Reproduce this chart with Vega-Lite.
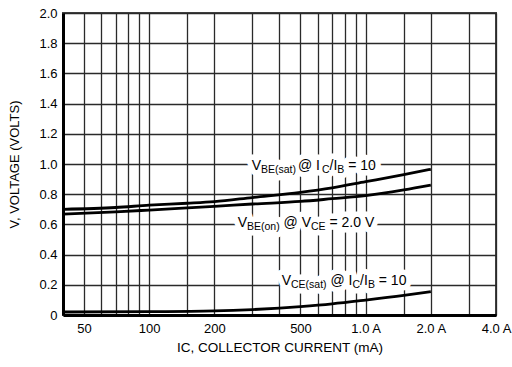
{
  "$schema": "https://vega.github.io/schema/vega-lite/v6.json",
  "width": 433,
  "height": 302,
  "autosize": "none",
  "padding": {"left": 63, "top": 13, "right": 16, "bottom": 52},
  "background": "white",
  "config": {
    "font": "Liberation Sans",
    "view": {"stroke": "#444", "strokeWidth": 2},
    "axis": {"labelFont": "Liberation Sans", "titleFont": "Liberation Sans"}
  },
  "datasets": {
    "curves": [
      {"series": "VBE(sat)", "ic": 40, "v": 0.700},
      {"series": "VBE(sat)", "ic": 70, "v": 0.712},
      {"series": "VBE(sat)", "ic": 100, "v": 0.727},
      {"series": "VBE(sat)", "ic": 150, "v": 0.740},
      {"series": "VBE(sat)", "ic": 200, "v": 0.751},
      {"series": "VBE(sat)", "ic": 300, "v": 0.778},
      {"series": "VBE(sat)", "ic": 500, "v": 0.812},
      {"series": "VBE(sat)", "ic": 700, "v": 0.842},
      {"series": "VBE(sat)", "ic": 1000, "v": 0.883},
      {"series": "VBE(sat)", "ic": 1500, "v": 0.930},
      {"series": "VBE(sat)", "ic": 2000, "v": 0.965},
      {"series": "VBE(on)", "ic": 40, "v": 0.668},
      {"series": "VBE(on)", "ic": 70, "v": 0.683},
      {"series": "VBE(on)", "ic": 100, "v": 0.695},
      {"series": "VBE(on)", "ic": 150, "v": 0.709},
      {"series": "VBE(on)", "ic": 200, "v": 0.719},
      {"series": "VBE(on)", "ic": 300, "v": 0.735},
      {"series": "VBE(on)", "ic": 500, "v": 0.752},
      {"series": "VBE(on)", "ic": 700, "v": 0.770},
      {"series": "VBE(on)", "ic": 1000, "v": 0.790},
      {"series": "VBE(on)", "ic": 1500, "v": 0.828},
      {"series": "VBE(on)", "ic": 2000, "v": 0.860},
      {"series": "VCE(sat)", "ic": 40, "v": 0.020},
      {"series": "VCE(sat)", "ic": 100, "v": 0.022},
      {"series": "VCE(sat)", "ic": 200, "v": 0.027},
      {"series": "VCE(sat)", "ic": 300, "v": 0.036},
      {"series": "VCE(sat)", "ic": 400, "v": 0.046},
      {"series": "VCE(sat)", "ic": 500, "v": 0.056},
      {"series": "VCE(sat)", "ic": 700, "v": 0.074},
      {"series": "VCE(sat)", "ic": 1000, "v": 0.099},
      {"series": "VCE(sat)", "ic": 1500, "v": 0.130},
      {"series": "VCE(sat)", "ic": 2000, "v": 0.155}
    ],
    "labels": [
      {"ic": 297.6, "v": 0.96, "t": "V", "p": "m"},
      {"ic": 328.6, "v": 0.96, "t": "BE(sat)", "p": "s"},
      {"ic": 487.0, "v": 0.96, "t": "@ I", "p": "m"},
      {"ic": 627.9, "v": 0.96, "t": "C", "p": "s"},
      {"ic": 680.7, "v": 0.96, "t": "/I", "p": "m"},
      {"ic": 739.7, "v": 0.96, "t": "B", "p": "s"},
      {"ic": 830.7, "v": 0.96, "t": "= 10", "p": "m"},
      {"ic": 256.5, "v": 0.585, "t": "V", "p": "m"},
      {"ic": 283.1, "v": 0.585, "t": "BE(on)", "p": "s"},
      {"ic": 417.8, "v": 0.585, "t": "@ V", "p": "m"},
      {"ic": 559.1, "v": 0.585, "t": "CE", "p": "s"},
      {"ic": 680.7, "v": 0.585, "t": "= 2.0 V", "p": "m"},
      {"ic": 409.5, "v": 0.199, "t": "V", "p": "m"},
      {"ic": 452.0, "v": 0.199, "t": "CE(sat)", "p": "s"},
      {"ic": 688.0, "v": 0.199, "t": "@ I", "p": "m"},
      {"ic": 869.5, "v": 0.199, "t": "C", "p": "s"},
      {"ic": 942.8, "v": 0.199, "t": "/I", "p": "m"},
      {"ic": 1024.3, "v": 0.199, "t": "B", "p": "s"},
      {"ic": 1150.0, "v": 0.199, "t": "= 10", "p": "m"}
    ]
  },
  "encoding": {
    "x": {
      "field": "ic",
      "type": "quantitative",
      "scale": {"type": "log", "domain": [40, 4000], "nice": false},
      "axis": {
        "values": [40, 50, 60, 70, 80, 90, 100, 150, 200, 300, 400, 500, 600, 700, 800, 900, 1000, 1500, 2000, 3000, 4000],
        "labelExpr": "datum.value == 50 ? '50' : datum.value == 100 ? '100' : datum.value == 200 ? '200' : datum.value == 500 ? '500' : datum.value == 1000 ? '1.0 A' : datum.value == 2000 ? '2.0 A' : datum.value == 4000 ? '4.0 A' : ''",
        "labelOverlap": false,
        "labelFlush": false,
        "labelBound": false,
        "ticks": false,
        "grid": true,
        "gridColor": "#2a2a2a",
        "gridWidth": 1.3,
        "domainColor": "#000",
        "domainWidth": 3,
        "labelFontSize": 13,
        "labelColor": "#000",
        "labelPadding": 7,
        "title": "IC, COLLECTOR CURRENT (mA)",
        "titleFontSize": 13.5,
        "titleFontWeight": "normal",
        "titleColor": "#000",
        "titlePadding": 5
      }
    },
    "y": {
      "field": "v",
      "type": "quantitative",
      "scale": {"domain": [0, 2], "nice": false},
      "axis": {
        "values": [0, 0.2, 0.4, 0.6, 0.8, 1.0, 1.2, 1.4, 1.6, 1.8, 2.0],
        "labelExpr": "datum.value == 0 ? '0' : format(datum.value, '.1f')",
        "ticks": false,
        "grid": true,
        "gridColor": "#2a2a2a",
        "gridWidth": 1.3,
        "domainColor": "#000",
        "domainWidth": 3,
        "labelFontSize": 13,
        "labelColor": "#000",
        "labelPadding": 6,
        "title": "V, VOLTAGE (VOLTS)",
        "titleFontSize": 13,
        "titleFontWeight": "normal",
        "titleColor": "#000",
        "titlePadding": 17
      }
    }
  },
  "layer": [
    {
      "data": {"name": "labels"},
      "transform": [{"filter": "datum.p == 'm'"}],
      "mark": {"type": "text", "align": "left", "baseline": "alphabetic", "fontSize": 14, "stroke": "white", "strokeWidth": 11, "fill": "white", "strokeJoin": "round"},
      "encoding": {"text": {"field": "t"}}
    },
    {
      "data": {"name": "labels"},
      "transform": [{"filter": "datum.p == 's'"}],
      "mark": {"type": "text", "align": "left", "baseline": "alphabetic", "fontSize": 10.5, "dy": 3, "stroke": "white", "strokeWidth": 11, "fill": "white", "strokeJoin": "round"},
      "encoding": {"text": {"field": "t"}}
    },
    {
      "data": {"name": "curves"},
      "mark": {"type": "line", "color": "#000", "strokeWidth": 2.8, "interpolate": "monotone"},
      "encoding": {"detail": {"field": "series"}}
    },
    {
      "data": {"name": "labels"},
      "transform": [{"filter": "datum.p == 'm'"}],
      "mark": {"type": "text", "align": "left", "baseline": "alphabetic", "fontSize": 14, "color": "#000"},
      "encoding": {"text": {"field": "t"}}
    },
    {
      "data": {"name": "labels"},
      "transform": [{"filter": "datum.p == 's'"}],
      "mark": {"type": "text", "align": "left", "baseline": "alphabetic", "fontSize": 10.5, "dy": 3, "color": "#000"},
      "encoding": {"text": {"field": "t"}}
    }
  ]
}
